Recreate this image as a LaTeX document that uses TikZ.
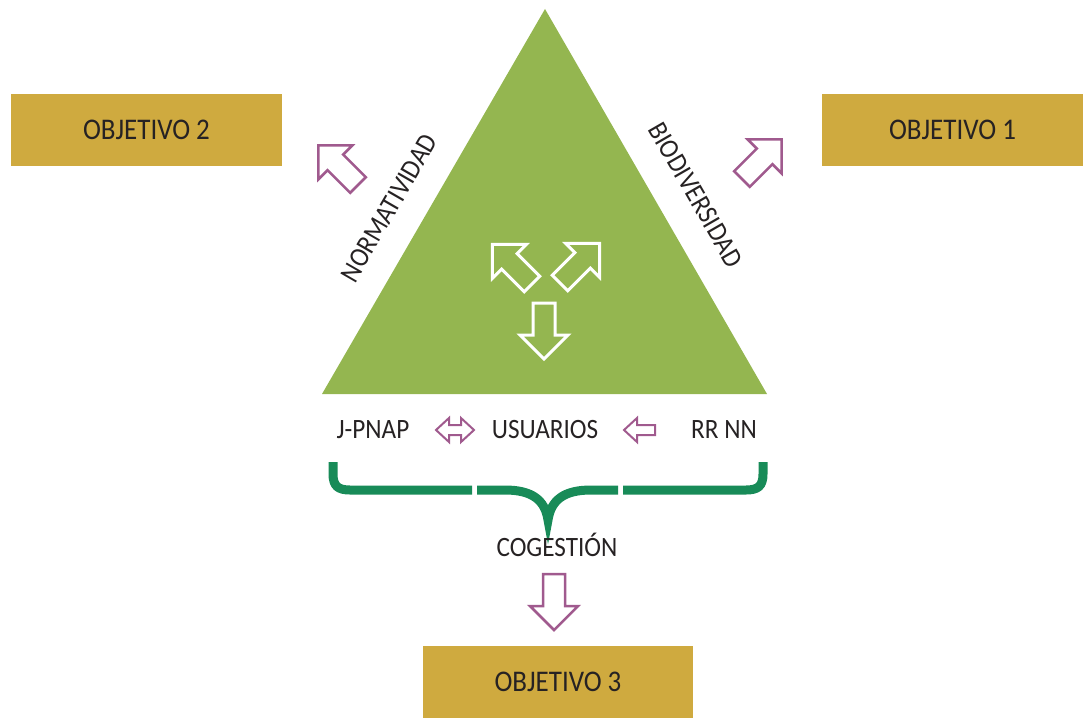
\documentclass[tikz,border=0pt]{standalone}
\usepackage{fontspec}
\setmainfont[FakeStretch=0.9]{Carlito}
\usepackage{xcolor}
\usepackage{tikz}
\usetikzlibrary{positioning,calc}

\definecolor{trigreen}{HTML}{94B650}
\definecolor{boxgold}{HTML}{CFAA3F}
\definecolor{arrowpurple}{HTML}{A05A8E}
\definecolor{bracegreen}{HTML}{188B58}
\definecolor{textgray}{HTML}{262223}

\tikzset{
  objbox/.style={fill=boxgold, text=textgray, minimum height=72pt, inner sep=0pt, font=\fontsize{30}{32}\selectfont},
  label/.style={text=textgray, inner sep=0pt, font=\fontsize{28}{30}\selectfont},
  purplearrow/.style={color=arrowpurple, line width=2.5pt, line join=miter},
  whitearrow/.style={color=white, line width=3pt, line join=miter},
  pics/bigarrow/.style={code={
    \draw (0,-11) -- (32,-11) -- (32,-24) -- (56,0) -- (32,24) -- (32,11) -- (0,11) -- cycle;}},
  pics/smallarrow/.style={code={
    \draw (0,-5) -- (18,-5) -- (18,-12) -- (31,0) -- (18,12) -- (18,5) -- (0,5) -- cycle;}},
  pics/smalldarrow/.style={code={
    \draw (0,0) -- (13,-12) -- (13,-5) -- (25,-5) -- (25,-12) -- (38,0) -- (25,12) -- (25,5) -- (13,5) -- (13,12) -- cycle;}}
}

\begin{document}
\begin{tikzpicture}[x=1pt, y=-1pt]
  \useasboundingbox (0,0) rectangle (1083,717);

  % triangle
  \fill[trigreen] (545,9) -- (322,394) -- (767,394) -- cycle;
  \node[label, rotate=60] (norm) at (389,208) {NORMATIVIDAD};
  \node[label, rotate=-60] (bio) at (696,195) {BIODIVERSIDAD};

  % arrows inside the triangle
  \pic[whitearrow, rotate=135] at (532,284) {bigarrow};
  \pic[whitearrow, rotate=45] at (560,283) {bigarrow};
  \pic[whitearrow, rotate=-90] at (544,303) {bigarrow};

  % objectives
  \node[objbox, minimum width=271pt] (obj2) at (146.5,130) {OBJETIVO 2};
  \node[objbox, minimum width=261pt] (obj1) at (952.5,130) {OBJETIVO 1};
  \node[objbox, minimum width=270pt] (obj3) at (558,682) {OBJETIVO 3};
  \pic[purplearrow, rotate=135] at (358,185) {bigarrow};
  \pic[purplearrow, rotate=45] at (742,179) {bigarrow};
  \pic[purplearrow, rotate=-90] at (554,574) {bigarrow};

  % actors
  \node[label] (jpnap) at (373,430) {J-PNAP};
  \node[label] (usuarios) at (545,430) {USUARIOS};
  \node[label] (rrnn) at (724,430) {RR NN};
  \pic[purplearrow, line width=2pt] at (436,430) {smalldarrow};
  \pic[purplearrow, line width=2pt, rotate=180] at (655,430) {smallarrow};

  % brace
  \draw[bracegreen, line width=9pt] (333,462) -- (333,474) .. controls (333,486) and (338,490) .. (350,490) -- (472,490);
  \draw[bracegreen, line width=9pt, line join=miter, miter limit=20] (477,490) -- (505,490) .. controls (532,490) and (545,500) .. (548,520)
    .. controls (551,500) and (564,490) .. (591,490) -- (618,490);
  \draw[bracegreen, line width=9pt] (623,490) -- (746,490) .. controls (758,490) and (763,486) .. (763,474) -- (763,462);
  \node[label] (cogestion) at (557,545) {COGESTIÓN};
\end{tikzpicture}
\end{document}
